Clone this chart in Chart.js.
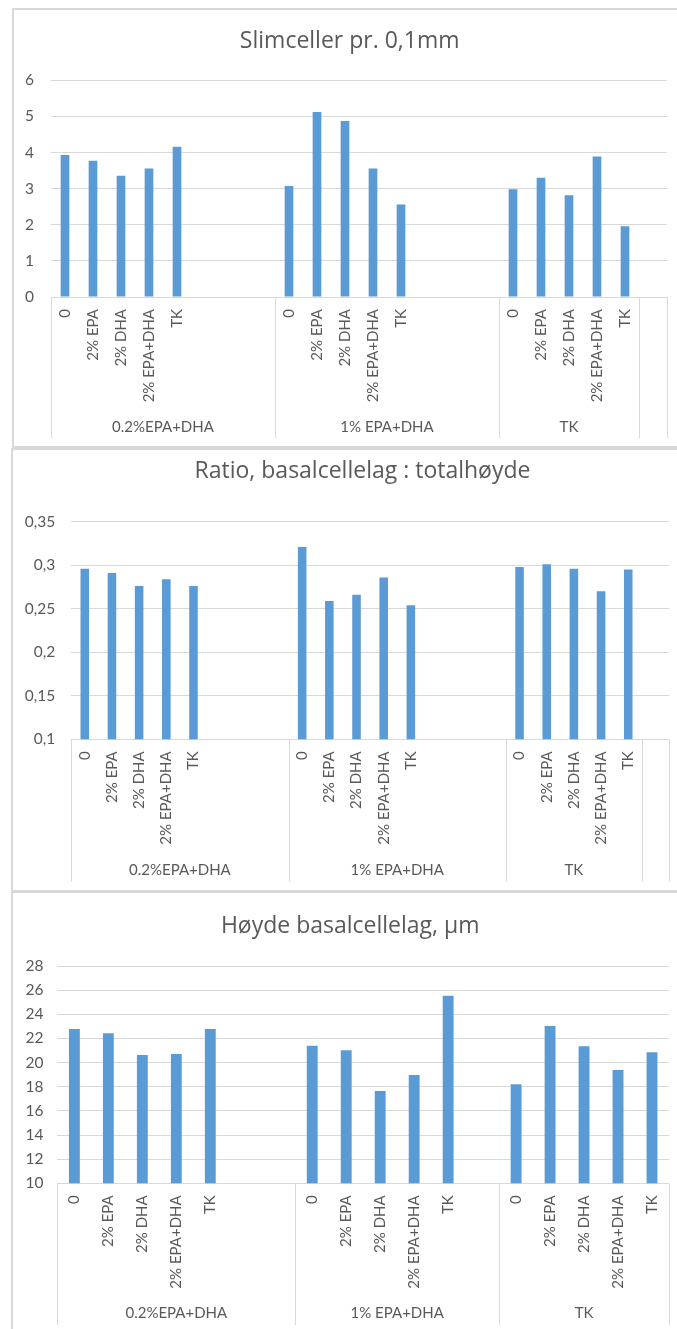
<!DOCTYPE html>
<html>
<head>
<meta charset="utf-8">
<script src="https://cdn.jsdelivr.net/npm/chart.js@4.4.1/dist/chart.umd.min.js"></script>
<style>
  html, body { margin:0; padding:0; background:#fff; overflow:hidden; width:677px; height:1329px; }
  .panel { position:absolute; box-sizing:border-box; border:2px solid #d9d9d9; background:#fff; }
  canvas { position:absolute; }
</style>
</head>
<body>
<div class="panel" style="left:12px;top:8px;width:700px;height:440px;"></div>
<div class="panel" style="left:11px;top:448px;width:700px;height:444px;"></div>
<div class="panel" style="left:11px;top:891px;width:700px;height:460px;"></div>
<canvas id="c1" width="690" height="437" style="left:13px;top:10px;width:690px;height:437px;"></canvas>
<canvas id="c2" width="690" height="438" style="left:13px;top:451px;width:690px;height:438px;"></canvas>
<canvas id="c3" width="690" height="435" style="left:13px;top:894px;width:690px;height:435px;"></canvas>
<script>
// ---------- DATA ----------
const title1 = 'Slimceller pr. 0,1mm';
const title2 = 'Ratio, basalcellelag : totalhøyde';
const title3 = 'Høyde basalcellelag, µm';

const cats1 = ['0','2% EPA','2% DHA','2% EPA+DHA','TK','','','',
               '0','2% EPA','2% DHA','2% EPA+DHA','TK','','','',
               '0','2% EPA','2% DHA','2% EPA+DHA','TK',
               ''];
const groups1 = ['0.2%EPA+DHA','0.2%EPA+DHA','0.2%EPA+DHA','0.2%EPA+DHA','0.2%EPA+DHA','0.2%EPA+DHA','0.2%EPA+DHA','0.2%EPA+DHA',
                 '1% EPA+DHA','1% EPA+DHA','1% EPA+DHA','1% EPA+DHA','1% EPA+DHA','1% EPA+DHA','1% EPA+DHA','1% EPA+DHA',
                 'TK','TK','TK','TK','TK',
                 ' '];
const values1 = [3.93, 3.77, 3.36, 3.56, 4.16, null, null, null,
                 3.07, 5.12, 4.87, 3.56, 2.56, null, null, null,
                 2.98, 3.30, 2.82, 3.89, 1.96,
                 null];
const yTicks1 = ['0','1','2','3','4','5','6'];

const cats2 = cats1;
const groups2 = groups1;
const values2 = [0.296, 0.291, 0.276, 0.284, 0.276, null, null, null,
                 0.321, 0.259, 0.266, 0.286, 0.254, null, null, null,
                 0.298, 0.301, 0.296, 0.270, 0.295,
                 null];
const yTicks2 = ['0,1','0,15','0,2','0,25','0,3','0,35'];

const cats3 = ['0','2% EPA','2% DHA','2% EPA+DHA','TK','','',
               '0','2% EPA','2% DHA','2% EPA+DHA','TK','',
               '0','2% EPA','2% DHA','2% EPA+DHA','TK'];
const groups3 = ['0.2%EPA+DHA','0.2%EPA+DHA','0.2%EPA+DHA','0.2%EPA+DHA','0.2%EPA+DHA','0.2%EPA+DHA','0.2%EPA+DHA',
                 '1% EPA+DHA','1% EPA+DHA','1% EPA+DHA','1% EPA+DHA','1% EPA+DHA','1% EPA+DHA',
                 'TK','TK','TK','TK','TK'];
const values3 = [22.78, 22.42, 20.63, 20.71, 22.78, null, null,
                 21.40, 21.02, 17.65, 18.97, 25.54, null,
                 18.20, 23.03, 21.35, 19.39, 20.85];
const yTicks3 = ['10','12','14','16','18','20','22','24','26','28'];

// ---------- STYLE ----------
const FONT = 'Lato, Carlito, "Open Sans", sans-serif';
const TFONT = '"Open Sans", Lato, sans-serif';
const TXT = '#595959';
const GRID = '#d9d9d9';
const BAR = '#5b9bd5';

const groupAxis = {
  id: 'groupAxis',
  afterDraw(chart, args, opts) {
    const xs = chart.scales.x, ca = chart.chartArea, ctx = chart.ctx;
    const g = opts.groups;
    const spans = [];
    let start = 0, x0 = ca.left;
    for (let i = 1; i <= g.length; i++) {
      if (i === g.length || g[i] !== g[i - 1]) {
        const xb = (i === g.length) ? ca.right : (xs.getPixelForTick(i - 1) + xs.getPixelForTick(i)) / 2;
        spans.push({ name: g[start], x0: x0, x1: xb });
        x0 = xb; start = i;
      }
    }
    ctx.save();
    ctx.strokeStyle = GRID;
    ctx.lineWidth = 1;
    const xsLines = [ca.left].concat(spans.map(s => s.x1));
    xsLines.forEach(x => {
      const px = Math.round(x) + 0.5;
      ctx.beginPath();
      ctx.moveTo(px, ca.bottom);
      ctx.lineTo(px, opts.lineBottom);
      ctx.stroke();
    });
    ctx.fillStyle = TXT;
    ctx.font = '15px ' + FONT;
    ctx.textAlign = 'center';
    ctx.textBaseline = 'middle';
    spans.forEach(s => { if (s.name.trim()) ctx.fillText(s.name, (s.x0 + s.x1) / 2, opts.labelY); });
    ctx.restore();
  }
};

function makeChart(id, cfg) {
  return new Chart(document.getElementById(id), {
    type: 'bar',
    data: {
      labels: cfg.cats,
      datasets: [{ data: cfg.values, backgroundColor: BAR, borderWidth: 0, barPercentage: 1, categoryPercentage: cfg.catPct }]
    },
    options: {
      responsive: false,
      maintainAspectRatio: false,
      animation: false,
      devicePixelRatio: 1,
      layout: { padding: { left: 0, right: 690 - cfg.titleRight, top: 0, bottom: 0 } },
      plugins: {
        legend: { display: false },
        tooltip: { enabled: false },
        title: {
          display: true, text: cfg.title, color: TXT,
          font: { family: TFONT, size: 23, weight: 'normal', lineHeight: 1.2 },
          padding: { top: cfg.titleTop, bottom: cfg.titleBottom }
        },
        groupAxis: { groups: cfg.groups, labelY: cfg.labelY, lineBottom: cfg.lineBottom }
      },
      scales: {
        x: {
          grid: { display: false, drawTicks: false },
          border: { display: false },
          ticks: { autoSkip: false, minRotation: 90, maxRotation: 90, padding: 12, color: TXT, font: { family: FONT, size: 15 } },
          afterFit(s) { s.height = cfg.xHeight; }
        },
        y: {
          min: cfg.min, max: cfg.max,
          ticks: { stepSize: cfg.step, padding: cfg.yPad, color: TXT, font: { family: FONT, size: 15.5 },
                   callback: (v, i) => cfg.yTicks[i] },
          grid: { color: GRID, drawTicks: false, lineWidth: 1 },
          border: { display: false },
          afterFit(s) { s.width = cfg.yWidth; }
        },
        yRight: {
          type: 'linear', position: 'right', display: true,
          grid: { display: false, drawTicks: false },
          border: { display: false },
          ticks: { display: false },
          afterFit(s) { s.width = cfg.titleRight - cfg.plotRight; }
        }
      }
    },
    plugins: [groupAxis]
  });
}

function draw() {
  makeChart('c1', { cats: cats1, values: values1, groups: groups1, title: title1, yTicks: yTicks1,
    min: 0, max: 6, step: 1, catPct: 0.31,
    yWidth: 38, plotRight: 654, titleRight: 673.4, yPad: 17,
    titleTop: 17.9, titleBottom: 24.8, xHeight: 150, labelY: 416.7, lineBottom: 428 });
  makeChart('c2', { cats: cats2, values: values2, groups: groups2, title: title2, yTicks: yTicks2,
    min: 0.1, max: 0.35, step: 0.05, catPct: 0.315,
    yWidth: 58.2, plotRight: 656, titleRight: 699, yPad: 16,
    titleTop: 6.9, titleBottom: 36.2, xHeight: 149.7, labelY: 419, lineBottom: 430.7 });
  makeChart('c3', { cats: cats3, values: values3, groups: groups3, title: title3, yTicks: yTicks3,
    min: 10, max: 28, step: 2, catPct: 0.32,
    yWidth: 44.4, plotRight: 656, titleRight: 674.4, yPad: 14,
    titleTop: 18.9, titleBottom: 25.5, xHeight: 145.7, labelY: 419.3, lineBottom: 431 });
}

if (document.fonts && document.fonts.load) {
  Promise.all([document.fonts.load('15px Lato'), document.fonts.load('23px "Open Sans"')]).then(draw, draw);
} else { draw(); }
</script>
</body>
</html>
